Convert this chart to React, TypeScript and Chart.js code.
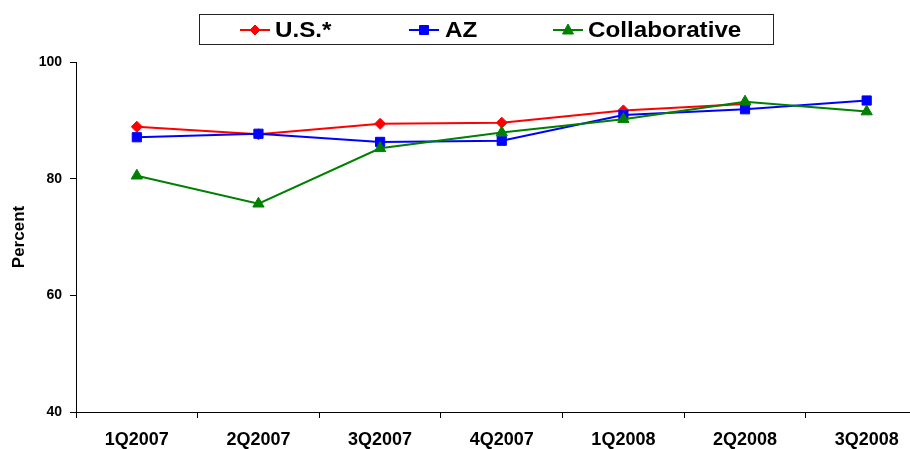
import React, { useEffect, useRef } from 'react';
import { Chart, registerables } from 'chart.js';

Chart.register(...registerables);

const categories = ['1Q2007', '2Q2007', '3Q2007', '4Q2007', '1Q2008', '2Q2008', '3Q2008'];
const usValues = [88.9, 87.6, 89.4, 89.6, 91.7, 92.8, null];
const azValues = [87.1, 87.7, 86.3, 86.5, 90.9, 91.9, 93.4];
const collabValues = [80.5, 75.7, 85.2, 87.9, 90.2, 93.2, 91.5];
const seriesNames = ['U.S.*', 'AZ', 'Collaborative'];
const yTicks = [40, 60, 80, 100];

const FONT = "'Liberation Sans', Arial, sans-serif";
const RED = '#FF0000';
const BLUE = '#0000FF';
const GREEN = '#008000';

function drawMarker(ctx: CanvasRenderingContext2D, kind: string, x: number, y: number, color: string) {
  ctx.save();
  ctx.fillStyle = color;
  ctx.strokeStyle = color;
  ctx.lineWidth = 1;
  ctx.beginPath();
  if (kind === 'diamond') {
    ctx.moveTo(x, y - 5);
    ctx.lineTo(x + 5, y);
    ctx.lineTo(x, y + 5);
    ctx.lineTo(x - 5, y);
    ctx.closePath();
  } else if (kind === 'square') {
    ctx.rect(x - 4.5, y - 4.5, 9, 9);
  } else {
    ctx.moveTo(x, y - 6);
    ctx.lineTo(x + 5.5, y + 4);
    ctx.lineTo(x - 5.5, y + 4);
    ctx.closePath();
  }
  ctx.fill();
  ctx.stroke();
  ctx.restore();
}

const boxLegend = {
  id: 'boxLegend',
  afterDraw(chart: any) {
    const ctx: CanvasRenderingContext2D = chart.ctx;
    ctx.save();
    ctx.strokeStyle = '#222';
    ctx.lineWidth = 1;
    ctx.strokeRect(199.5, 14.5, 574, 30);
    const cy = 30;
    const items = [
      { name: seriesNames[0], color: RED, kind: 'diamond', lx: 240, tx: 275 },
      { name: seriesNames[1], color: BLUE, kind: 'square', lx: 409, tx: 445 },
      { name: seriesNames[2], color: GREEN, kind: 'triangle', lx: 553, tx: 588 },
    ];
    for (const it of items) {
      ctx.strokeStyle = it.color;
      ctx.lineWidth = 2;
      ctx.beginPath();
      ctx.moveTo(it.lx, cy);
      ctx.lineTo(it.lx + 30, cy);
      ctx.stroke();
      drawMarker(ctx, it.kind, it.lx + 15, cy, it.color);
      ctx.save();
      ctx.fillStyle = '#000';
      ctx.font = `bold 22px ${FONT}`;
      ctx.textBaseline = 'middle';
      ctx.textAlign = 'left';
      ctx.translate(it.tx, cy + 1);
      ctx.scale(1.1, 1);
      ctx.fillText(it.name, 0, 0);
      ctx.restore();
    }
    ctx.restore();
  },
};

export default function App() {
  const ref = useRef<HTMLCanvasElement | null>(null);

  useEffect(() => {
    if (!ref.current) return;
    const lineDs = (label: string, data: (number | null)[], color: string, style: any, radius: number, order: number) => ({
      label,
      data,
      borderColor: color,
      backgroundColor: color,
      borderWidth: 2,
      pointStyle: style,
      pointRadius: radius,
      pointBorderWidth: 1,
      pointBackgroundColor: color,
      pointBorderColor: color,
      tension: 0,
      spanGaps: false,
      order,
    });
    const chart = new Chart(ref.current, {
      type: 'line',
      data: {
        labels: categories,
        datasets: [
          lineDs(seriesNames[0], usValues, RED, 'rectRot', 5.5, 2),
          lineDs(seriesNames[1], azValues, BLUE, 'rect', 6.5, 1),
          lineDs(seriesNames[2], collabValues, GREEN, 'triangle', 6.5, 0),
        ],
      },
      options: {
        responsive: false,
        animation: false,
        layout: { padding: { top: 62, left: 0, right: 0, bottom: 0 } },
        plugins: {
          legend: { display: false },
          tooltip: { enabled: false },
        },
        scales: {
          x: {
            offset: true,
            afterFit: (scale: any) => { scale.height = 37; },
            grid: {
              offset: true,
              drawOnChartArea: false,
              drawTicks: true,
              tickLength: 6,
              color: '#000',
            },
            border: { color: '#000', width: 1 },
            ticks: {
              color: '#000',
              padding: 11,
              maxRotation: 0,
              autoSkip: false,
              font: { family: FONT, size: 18, weight: 'bold' },
            },
          },
          y: {
            min: 40,
            max: 100,
            afterFit: (scale: any) => { scale.width = 76; },
            afterBuildTicks: (scale: any) => { scale.ticks = yTicks.map((v) => ({ value: v })); },
            grid: {
              drawOnChartArea: false,
              drawTicks: true,
              tickLength: 6,
              color: '#000',
            },
            border: { color: '#000', width: 1 },
            ticks: {
              color: '#000',
              padding: 8,
              font: { family: FONT, size: 14, weight: 'bold' },
            },
            title: {
              display: true,
              text: 'Percent',
              color: '#000',
              padding: { top: 9, bottom: 0 },
              font: { family: FONT, size: 17, weight: 'bold' },
            },
          },
        },
      },
      plugins: [boxLegend],
    });
    return () => chart.destroy();
  }, []);

  return (
    <div style={{ position: 'fixed', left: 0, top: 0, width: 910, height: 449, overflow: 'hidden', background: '#fff' }}>
      <canvas ref={ref} width={935} height={449} style={{ display: 'block' }} />
    </div>
  );
}
